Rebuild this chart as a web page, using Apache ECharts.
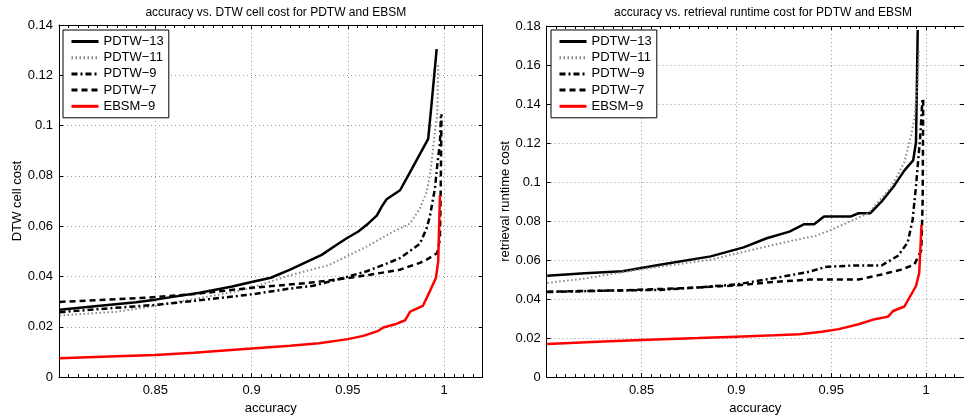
<!DOCTYPE html>
<html>
<head>
<meta charset="utf-8">
<script src="https://cdn.jsdelivr.net/npm/echarts@6/dist/echarts.min.js"></script>
<style>html,body{margin:0;padding:0;background:#fff}#c{width:964px;height:420px}</style>
</head>
<body>
<div id="c"></div>
<script>
// ---- data (accuracy, cost) ----
const seriesNames = ['PDTW\u221213', 'PDTW\u221211', 'PDTW\u22129', 'PDTW\u22127', 'EBSM\u22129'];
const xTicks = [0.85, 0.9, 0.95, 1];
const yTicksLeft = [0, 0.02, 0.04, 0.06, 0.08, 0.1, 0.12, 0.14];
const yTicksRight = [0, 0.02, 0.04, 0.06, 0.08, 0.1, 0.12, 0.14, 0.16, 0.18];

// left panel: DTW cell cost
const pdtw13Cell = [[0.8003,0.0268],[0.82,0.0283],[0.84,0.0298],[0.85,0.0308],[0.86,0.032],[0.873,0.0335],[0.89,0.036],[0.9,0.0378],[0.91,0.0395],[0.92,0.0427],[0.9286,0.0458],[0.9364,0.0486],[0.9442,0.0526],[0.9494,0.0552],[0.9554,0.0579],[0.9606,0.0611],[0.965,0.0642],[0.9675,0.0677],[0.9701,0.0707],[0.9771,0.0743],[0.9823,0.0815],[0.9917,0.0947],[0.9935,0.109],[0.9961,0.1304]];
const pdtw11Cell = [[0.8003,0.0245],[0.83,0.026],[0.85,0.0283],[0.87,0.031],[0.89,0.0338],[0.9,0.0355],[0.92,0.0405],[0.94,0.0445],[0.96,0.052],[0.9736,0.0579],[0.9822,0.061],[0.9874,0.0671],[0.9909,0.0736],[0.9926,0.0802],[0.994,0.0894],[0.9952,0.098],[0.9964,0.1039],[0.9969,0.1249]];
const pdtw9Cell = [[0.8003,0.0258],[0.82,0.027],[0.85,0.0287],[0.87,0.0303],[0.9,0.0329],[0.92,0.0352],[0.932,0.0363],[0.9476,0.0394],[0.9598,0.0421],[0.9667,0.0441],[0.977,0.0473],[0.9874,0.053],[0.9909,0.0592],[0.9926,0.064],[0.9952,0.075],[0.9965,0.085],[0.9978,0.093],[0.9983,0.1039]];
const pdtw7Cell = [[0.8003,0.0299],[0.83,0.031],[0.85,0.0318],[0.87,0.033],[0.9,0.0355],[0.93,0.0375],[0.95,0.0394],[0.9615,0.0407],[0.977,0.0427],[0.9822,0.0441],[0.9874,0.0454],[0.9909,0.0467],[0.9964,0.0493],[0.9978,0.055],[0.9982,0.075],[0.9986,0.1045]];
const ebsm9Cell = [[0.8003,0.0075],[0.83,0.0083],[0.85,0.0088],[0.87,0.0097],[0.9,0.0114],[0.92,0.0125],[0.935,0.0135],[0.95,0.0151],[0.958,0.0164],[0.9658,0.0184],[0.9684,0.0197],[0.9745,0.021],[0.9797,0.0226],[0.9823,0.026],[0.9889,0.0283],[0.9926,0.0342],[0.9957,0.0394],[0.9969,0.046],[0.9978,0.0723]];

// right panel: retrieval runtime cost
const pdtw13Run = [[0.8003,0.052],[0.82,0.0532],[0.84,0.0543],[0.8605,0.0577],[0.8865,0.0619],[0.9038,0.0665],[0.916,0.0712],[0.928,0.0746],[0.9358,0.0784],[0.941,0.0784],[0.9462,0.0823],[0.9601,0.0823],[0.9644,0.084],[0.9705,0.084],[0.9765,0.0899],[0.9834,0.0984],[0.9886,0.106],[0.9932,0.1111],[0.9947,0.1204],[0.9956,0.178]];
const pdtw11Run = [[0.8003,0.0483],[0.82,0.0505],[0.8485,0.0551],[0.8865,0.0602],[0.9125,0.0662],[0.9298,0.07],[0.9419,0.0725],[0.95,0.0755],[0.9696,0.084],[0.9817,0.0975],[0.9886,0.1103],[0.9921,0.1238],[0.9938,0.1323],[0.9955,0.15],[0.9962,0.168]];
const pdtw9Run = [[0.8003,0.0436],[0.83,0.0443],[0.86,0.0447],[0.88,0.046],[0.9,0.0475],[0.9211,0.0509],[0.9384,0.054],[0.9471,0.0565],[0.961,0.0572],[0.9765,0.0572],[0.9852,0.0622],[0.9903,0.069],[0.9929,0.0805],[0.9947,0.098],[0.9969,0.123],[0.9981,0.1425]];
const pdtw7Run = [[0.8003,0.0438],[0.84,0.0445],[0.87,0.0455],[0.9,0.047],[0.92,0.0488],[0.9384,0.05],[0.9644,0.05],[0.9765,0.0526],[0.9869,0.0551],[0.9938,0.0577],[0.9975,0.065],[0.9982,0.09],[0.9985,0.1425]];
const ebsm9Run = [[0.8003,0.017],[0.83,0.0182],[0.85,0.019],[0.88,0.02],[0.9,0.0207],[0.92,0.0214],[0.9332,0.022],[0.945,0.0232],[0.954,0.0246],[0.9644,0.0271],[0.973,0.0297],[0.98,0.031],[0.9826,0.0339],[0.9886,0.0362],[0.9947,0.0467],[0.9964,0.0534],[0.9976,0.078]];

// ---- styling ----
const FONT = 'Liberation Sans, Arial, Helvetica, sans-serif';
const styles = [
  {color:'#000', width:2.5, type:'solid'},
  {color:'#888', width:2, type:[1.5,2.5]},
  {color:'#000', width:2.5, type:[6,3,2,3]},
  {color:'#000', width:2.5, type:[6,4]},
  {color:'#ff0000', width:2.5, type:'solid'}
];
const leftData = [pdtw13Cell, pdtw11Cell, pdtw9Cell, pdtw7Cell, ebsm9Cell];
const rightData = [pdtw13Run, pdtw11Run, pdtw9Run, pdtw7Run, ebsm9Run];

const gridDot = {show:true, lineStyle:{color:'#999', width:1, type:[1,3]}};
function xAx(gi, pos, labels, name) {
  return {
    type:'value', gridIndex:gi, position:pos, min:0.8, max:1.02, interval:0.05,
    axisLine:{show:true, onZero:false, lineStyle:{color:'#000', width:1}},
    axisTick:{show:true, inside:true, length:4, lineStyle:{color:'#000'}},
    minorTick:{show:true, splitNumber:10, length:3, lineStyle:{color:'#000'}},
    splitLine: labels ? gridDot : {show:false},
    axisLabel:{show:labels, showMinLabel:false, showMaxLabel:false, color:'#000', fontSize:13, fontFamily:FONT, margin:7,
      formatter: v => String(+v.toFixed(2))},
    name: name || '', nameLocation:'middle', nameGap:20,
    nameTextStyle:{color:'#000', fontSize:13, fontFamily:FONT}
  };
}
function yAx(gi, pos, max, labels, name) {
  return {
    type:'value', gridIndex:gi, position:pos, min:0, max:max, interval:0.02,
    axisLine:{show:true, onZero:false, lineStyle:{color:'#000', width:1}},
    axisTick:{show:true, inside:true, length:4, lineStyle:{color:'#000'}},
    splitLine: labels ? gridDot : {show:false},
    axisLabel:{show:labels, color:'#000', fontSize:13, fontFamily:FONT, margin:6,
      formatter: v => String(+v.toFixed(2))},
    name: name || '', nameLocation:'middle', nameGap:32,
    nameTextStyle:{color:'#000', fontSize:13, fontFamily:FONT}
  };
}

const series = [];
leftData.forEach((d, i) => series.push({
  name: seriesNames[i], type:'line', xAxisIndex:0, yAxisIndex:0, data:d,
  symbol:'none', lineStyle:styles[i], itemStyle:{color:styles[i].color, opacity:0}, z:2+i
}));
rightData.forEach((d, i) => series.push({
  name: seriesNames[i], type:'line', xAxisIndex:2, yAxisIndex:2, data:d,
  symbol:'none', lineStyle:styles[i], itemStyle:{color:styles[i].color, opacity:0}, z:2+i
}));

function legendAt(left, top) {
  return {
    data: seriesNames, orient:'vertical', left:left, top:top,
    itemWidth:27, itemHeight:14, itemGap:3.2, selectedMode:false,
    backgroundColor:'#fff', borderColor:'#000', borderWidth:1,
    padding:[5,5,5,7],
    itemStyle:{opacity:0},
    lineStyle:{width:3},
    textStyle:{color:'#000', fontSize:13, fontFamily:FONT}
  };
}

const option = {
  animation:false,
  backgroundColor:'#fff',
  title:[
    {text:'accuracy vs. DTW cell cost for PDTW and EBSM', left:270.8, top:2, textAlign:'center',
     textStyle:{color:'#000', fontSize:12, fontWeight:'normal', fontFamily:FONT}},
    {text:'accuracy vs. retrieval runtime cost for PDTW and EBSM', left:758, top:2, textAlign:'center',
     textStyle:{color:'#000', fontSize:12, fontWeight:'normal', fontFamily:FONT}}
  ],
  legend:[legendAt(63, 30), legendAt(551, 30)],
  grid:[
    {left:59, top:25, width:423.7, height:355, show:false},
    {left:546.7, top:26, width:422.8, height:354, show:false}
  ],
  xAxis:[xAx(0,'bottom',true,'accuracy'), xAx(0,'top',false), xAx(1,'bottom',true,'accuracy'), xAx(1,'top',false)],
  yAxis:[yAx(0,'left',0.14,true,'DTW cell cost'), yAx(0,'right',0.14,false), yAx(1,'left',0.18,true,'retrieval runtime cost'), yAx(1,'right',0.18,false)],
  series: series
};
const chart = echarts.init(document.getElementById('c'), null, {renderer:'canvas'});
chart.setOption(option);
</script>
</body>
</html>
